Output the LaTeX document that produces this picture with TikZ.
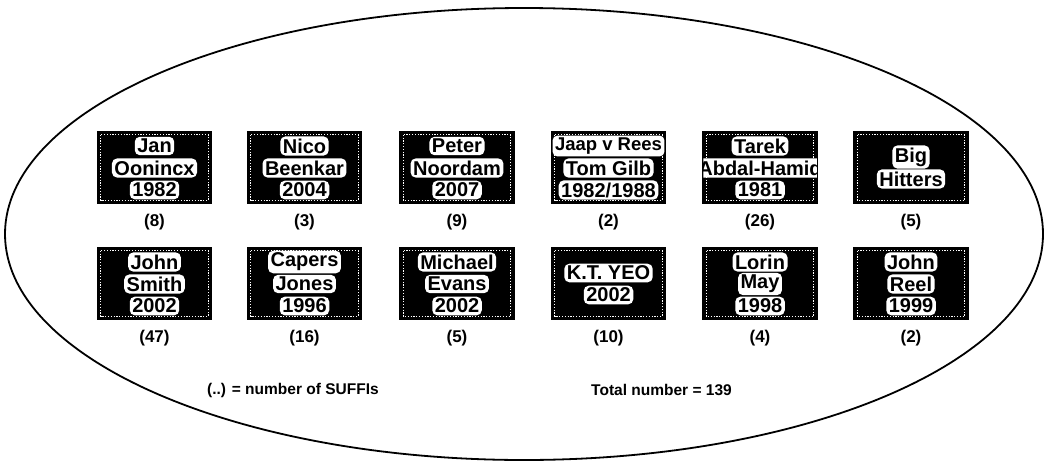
\documentclass[tikz,border=0pt]{standalone}
\usepackage{fontspec}
\setmainfont{Liberation Sans}
\begin{document}
\begin{tikzpicture}[x=1pt,y=-1pt,
  card/.style={draw=black, line width=2.5pt, fill=black, minimum width=113pt, minimum height=71pt, inner sep=0pt},
  frame/.style={draw=white, line width=0.7pt, dash pattern=on 1.2pt off 1.6pt},
  nm/.style={fill=white, rounded corners=5pt, inner xsep=2.5pt, inner ysep=2.2pt, text=black, font=\fontsize{20}{21}\selectfont\bfseries},
  cnt/.style={inner sep=1pt, font=\fontsize{17}{18}\selectfont\bfseries},
  leg/.style={inner sep=1pt, font=\fontsize{15.5}{17}\selectfont\bfseries},
  oval/.style={draw=black, line width=1.8pt}
]
\useasboundingbox (0,0) rectangle (1046,466);
\fill[white] (0,0) rectangle (1046,466);
\draw[oval] (524,234) ellipse [x radius=519, y radius=226];

% three-line cards
\foreach \n/\x/\y/\a/\b/\c/\k in {
  c1/154.5/167.5/Jan/Oonincx/1982/(8),
  c2/304.5/167.5/Nico/Beenkar/2004/(3),
  c3/457/167.5/Peter/Noordam/2007/(9),
  c4/608.5/167.5/{\fontsize{18.5}{20}\selectfont Jaap v Rees}/Tom Gilb/1982{/}1988/(2),
  c5/760/167.5/Tarek/Abdal-Hamid/1981/(26),
  c7/154.5/283.5/John/Smith/2002/(47),
  c8/304.5/283.5/Capers/Jones/1996/(16),
  c9/457/283.5/Michael/Evans/2002/(5),
  c11/760/283.5/Lorin/May/1998/(4),
  c12/911/283.5/John/Reel/1999/(2)}{
  \node[card] (\n) at (\x,\y) {};
  \draw[frame] ([shift={(4pt,-4pt)}]\n.north west) rectangle ([shift={(-4pt,4pt)}]\n.south east);
  \begin{scope}
    \clip ([shift={(1pt,-1pt)}]\n.north west) rectangle ([shift={(-1pt,1pt)}]\n.south east);
    \node[nm] (\n a) at (\x,\y-21.5) {\a};
    \node[nm] (\n b) at (\x,\y+0.5) {\b};
    \node[nm] (\n c) at (\x,\y+22.5) {\c};
  \end{scope}
  \node[cnt] (\n k) at (\x,\y+54.5) {\k};
}

% two-line cards
\foreach \n/\x/\y/\a/\b/\k in {
  c6/911/167.5/Big/Hitters/(5),
  c10/608.5/283.5/K.T. YEO/2002/(10)}{
  \node[card] (\n) at (\x,\y) {};
  \draw[frame] ([shift={(4pt,-4pt)}]\n.north west) rectangle ([shift={(-4pt,4pt)}]\n.south east);
  \node[nm] (\n a) at (\x,\y-10.5) {\a};
  \node[nm] (\n b) at (\x,\y+11.5) {\b};
  \node[cnt] (\n k) at (\x,\y+54.5) {\k};
}

\node[leg, anchor=west] (legend) at (206,390) {(..) = number of SUFFIs};
\node[leg, anchor=west] (total) at (590,390) {Total number = 139};
\end{tikzpicture}
\end{document}
